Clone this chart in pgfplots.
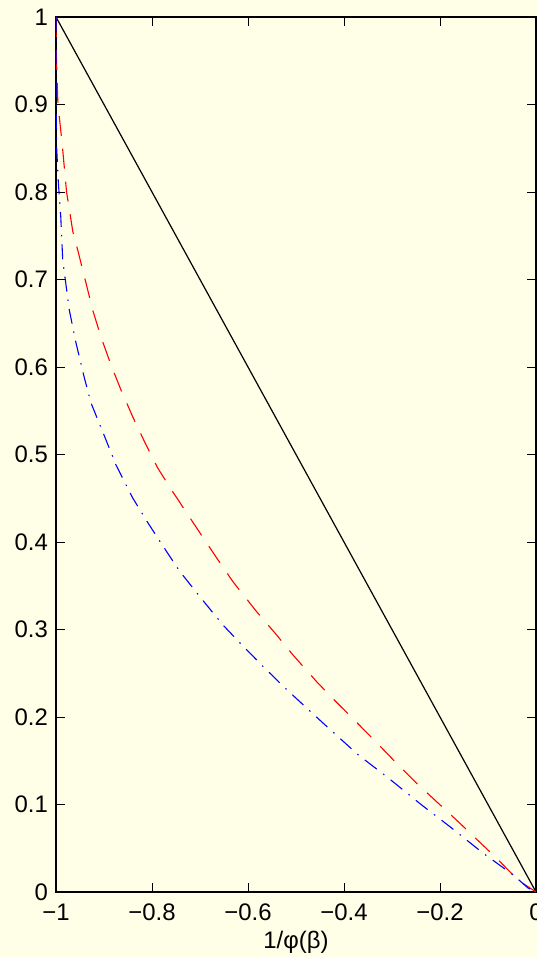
\documentclass[border=0pt]{standalone}
\usepackage{pgfplots}
\pgfplotsset{compat=1.18}
\usepackage{fontspec}
\setmainfont{Liberation Sans}
\definecolor{bgyellow}{RGB}{255,254,230}

\begin{document}
\fontsize{24}{28}\selectfont
\begin{tikzpicture}
\fill[bgyellow] (-56bp,-65bp) rectangle (481bp,892bp);
\clip (-56bp,-65bp) rectangle (481bp,892bp);
\begin{axis}[
  scale only axis,
  width=480bp,
  height=875bp,
  xmin=-1, xmax=0,
  ymin=0, ymax=1,
  xtick={-1,-0.8,-0.6,-0.4,-0.2,0},
  xticklabels={−1,−0.8,−0.6,−0.4,−0.2,0},
  ytick={0,0.1,0.2,0.3,0.4,0.5,0.6,0.7,0.8,0.9,1},
  yticklabels={0,0.1,0.2,0.3,0.4,0.5,0.6,0.7,0.8,0.9,1},
  tick align=inside,
  major tick length=9bp,
  tick style={black, line width=0.8bp},
  axis line style={line width=1.1bp},
  xticklabel style={yshift=-4bp},
  xlabel={1/φ(β)},
  xlabel style={yshift=6bp},
  every tick label/.append style={font=\fontsize{24}{28}\selectfont},
  label style={font=\fontsize{24}{28}\selectfont},
]
% black solid line
\addplot[black, line width=1.2bp] coordinates {(-1,1) (0,0)};
% red dashed
\addplot[red, line width=1.1bp, dash pattern=on 20bp off 13bp] coordinates {
  (-1,1) (-0.999,0.95) (-0.996,0.90) (-0.988,0.86) (-0.978,0.80)
  (-0.965,0.755) (-0.9548,0.7337) (-0.9375,0.696) (-0.9235,0.665)
  (-0.9063,0.6343) (-0.8854,0.6023) (-0.8646,0.5737) (-0.8402,0.5432)
  (-0.8146,0.5135) (-0.7881,0.4846) (-0.7569,0.4575) (-0.7,0.4103)
  (-0.6652,0.3817) (-0.6313,0.3546) (-0.5819,0.3203) (-0.5438,0.296)
  (-0.5063,0.2709) (-0.4569,0.2403) (-0.4188,0.2186) (-0.3771,0.1958)
  (-0.3319,0.1706) (-0.2902,0.147) (-0.2485,0.1242) (-0.2035,0.1014)
  (-0.1619,0.0803) (-0.1235,0.0602) (-0.0819,0.0385) (-0.0375,0.0137)
  (0,0)
};
% blue dash-dot
\addplot[blue, line width=1.1bp, dash pattern=on 15bp off 8bp on 1.5bp off 8bp] coordinates {
  (-1,1) (-1,0.92) (-0.9986,0.85) (-0.995,0.81) (-0.990,0.771)
  (-0.986,0.7223) (-0.9723,0.6651) (-0.9583,0.6274) (-0.941,0.5878)
  (-0.9271,0.5589) (-0.9,0.5223) (-0.875,0.488) (-0.8402,0.4503)
  (-0.8083,0.4217) (-0.7694,0.3889) (-0.7417,0.3661) (-0.6965,0.3349)
  (-0.6521,0.3051) (-0.6167,0.2846) (-0.5715,0.2594) (-0.5229,0.2331)
  (-0.4431,0.1928) (-0.3702,0.1566) (-0.311,0.1318) (-0.2381,0.0994)
  (-0.1792,0.0746) (-0.1098,0.0442) (-0.0473,0.0194) (-0.0167,0.0046)
  (0,0)
};
\end{axis}
\end{tikzpicture}
\end{document}
